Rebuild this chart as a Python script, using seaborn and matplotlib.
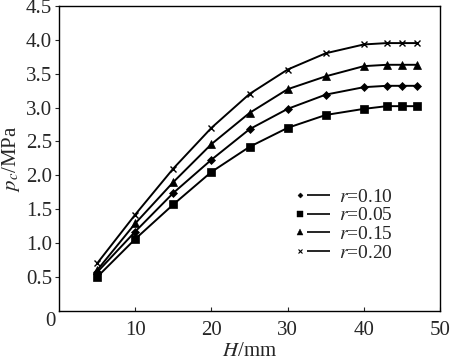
import seaborn as sns
import pandas as pd
import numpy as np
import matplotlib.pyplot as plt
from matplotlib.lines import Line2D
from matplotlib.legend_handler import HandlerTuple

H = [5, 10, 15, 20, 25, 30, 35, 40, 43, 45, 47]
pc_r010 = [0.57, 1.17, 1.74, 2.23, 2.68, 2.98, 3.19, 3.30, 3.32, 3.32, 3.32]
pc_r005 = [0.50, 1.06, 1.57, 2.05, 2.42, 2.70, 2.89, 2.98, 3.02, 3.02, 3.02]
pc_r015 = [0.60, 1.29, 1.90, 2.46, 2.92, 3.27, 3.46, 3.61, 3.63, 3.63, 3.63]
pc_r020 = [0.70, 1.42, 2.10, 2.70, 3.20, 3.56, 3.80, 3.93, 3.95, 3.95, 3.95]
labels = ['0.10', '0.05', '0.15', '0.20']
markers = ['D', 's', '^', 'x']
msizes = [4, 6, 6, 5]

df = pd.DataFrame({'H': H * 4,
                   'pc': pc_r010 + pc_r005 + pc_r015 + pc_r020,
                   'r': np.repeat(labels, len(H))})

sns.set_style('white')
plt.rcParams['font.family'] = ['Liberation Serif', 'DejaVu Serif']
plt.rcParams['mathtext.fontset'] = 'stix'

fig = plt.figure(figsize=(4.5, 3.62), dpi=100)
ax = fig.add_axes([0.131, 0.141, 0.847, 0.843])

blank = Line2D([], [], ls='none')
handles = []
for lab, m, ms in zip(labels, markers, msizes):
    sub = df[df.r == lab]
    sns.lineplot(data=sub, x='H', y='pc', ax=ax, color='black', lw=1.4,
                 marker=m, markersize=ms, markeredgecolor='black',
                 markeredgewidth=1.0 if m == 'x' else 0.5, legend=False)
    mk = Line2D([], [], ls='none', marker=m, color='black',
                markersize=ms * 0.65, markeredgewidth=0.8 if m == 'x' else 0.3)
    ln = Line2D([], [], color='black', lw=1.2, solid_capstyle='butt')
    handles.append((mk, blank, ln, ln, ln, ln, ln))

ax.set_xlim(0, 50)
ax.set_ylim(0, 4.5)
ax.set_xticks([10, 20, 30, 40, 50])
ax.set_yticks([0.5, 1.0, 1.5, 2.0, 2.5, 3.0, 3.5, 4.0, 4.5])
ax.set_yticklabels(['%.1f' % v for v in ax.get_yticks()])
ax.tick_params(axis='x', direction='in', length=3, width=0.8, labelsize=15, pad=7)
ax.tick_params(axis='y', direction='out', length=3, width=0.8, labelsize=15, pad=2)
ax.tick_params(left=True, bottom=True)
ax.text(-0.5, -0.02, '0', fontsize=15, ha='right', va='top')
for s in ax.spines.values():
    s.set_color('black')
    s.set_linewidth(1.0)

ax.set_xlabel('$H$/mm', fontsize=15, labelpad=2)
ax.set_ylabel('$p_c$/MPa', fontsize=15, labelpad=3)

ax.legend(handles, ['$r$=' + l for l in labels],
          handler_map={tuple: HandlerTuple(ndivide=None, pad=0)},
          loc='lower right', bbox_to_anchor=(0.903, 0.13), frameon=False,
          fontsize=14, handlelength=1.65, handletextpad=0.5,
          labelspacing=0.05, borderpad=0)

fig.savefig('out.png', dpi=100)
